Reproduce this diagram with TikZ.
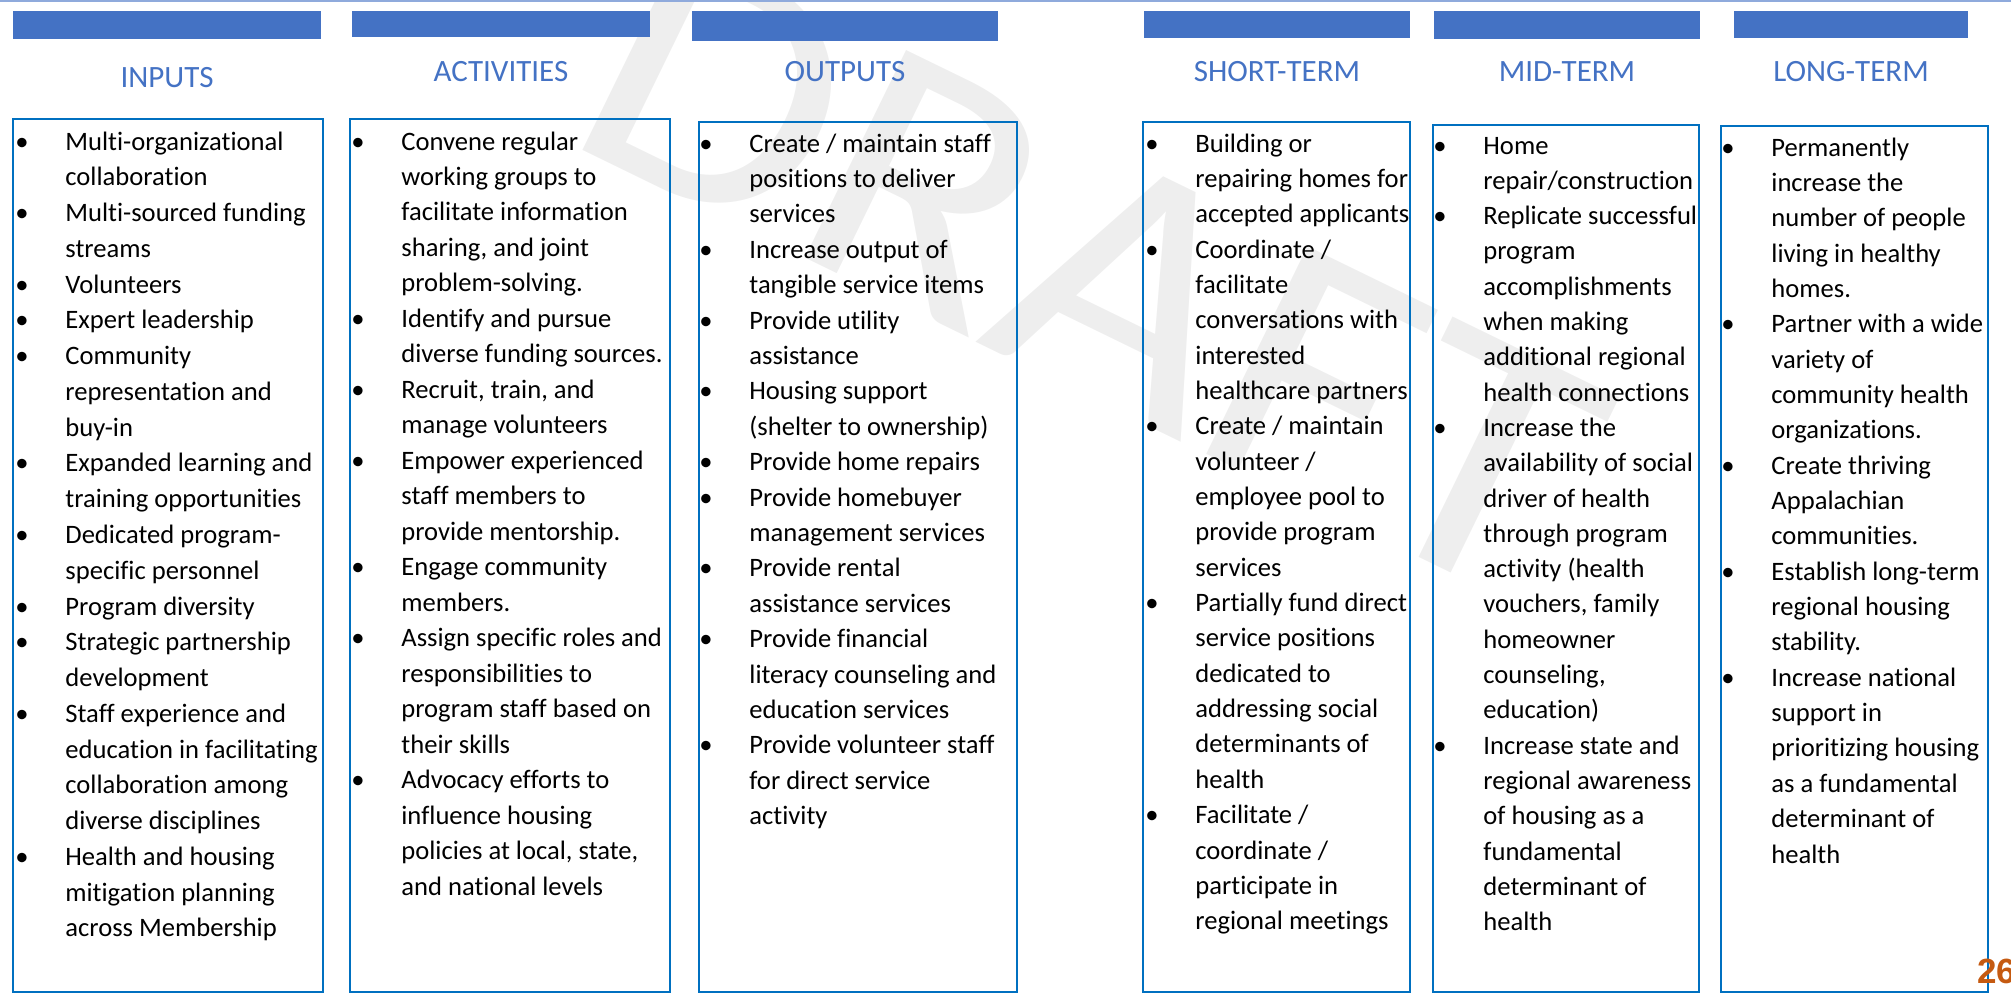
\documentclass[tikz,border=0pt]{standalone}
\usepackage{fontspec}
\setmainfont{Carlito}[Ligatures=NoCommon]
\newfontfamily\numfont{Liberation Sans}
\definecolor{barblue}{HTML}{4472C4}
\definecolor{boxblue}{HTML}{0070C0}
\definecolor{hdrblue}{HTML}{4472C4}
\definecolor{topline}{HTML}{8FAADC}
\definecolor{pagenum}{HTML}{C55A11}
\definecolor{wmark}{HTML}{EEEEEE}
\newcommand\bl{\leavevmode\llap{\makebox[0pt][c]{•}\hspace{21.75pt}}}
\newcommand\colbody[2]{\parbox[t]{230pt}{\fontsize{13.3pt}{#1}\selectfont #2}}
\begin{document}
\begin{tikzpicture}[x=0.5pt,y=-0.5pt,
  bar/.style={fill=barblue},
  colbox/.style={draw=boxblue,line width=1.25pt},
  hdr/.style={anchor=base,inner sep=0pt,text=hdrblue,font=\fontsize{15.5pt}{18pt}\selectfont},
  body/.style={anchor=base west,inner sep=0pt,text=black}]
\useasboundingbox (0,0) rectangle (2011,992);
% watermark
\node[anchor=base west,inner sep=0pt,rotate=-26,text=wmark,font=\fontsize{180pt}{180pt}\selectfont] (wm) at (558,138) {\scalebox{1.11}[1]{DRAFT}};
% top line
\draw[topline,line width=1pt] (0,1) -- (2011,1);
% header bars
\fill[bar] (13,11) rectangle (321,39);
\fill[bar] (352,11) rectangle (650,37);
\fill[bar] (692,11) rectangle (998,41);
\fill[bar] (1144,11) rectangle (1410,38);
\fill[bar] (1434,11) rectangle (1700,39);
\fill[bar] (1734,11) rectangle (1968,38);
% headers
\node[hdr] (h1) at (167,87) {INPUTS};
\node[hdr] (h2) at (501,81) {ACTIVITIES};
\node[hdr] (h3) at (845,81) {OUTPUTS};
\node[hdr] (h4) at (1277,81) {SHORT-TERM};
\node[hdr] (h5) at (1567,81) {MID-TERM};
\node[hdr] (h6) at (1851,81) {LONG-TERM};
% boxes
\draw[colbox] (13,992.5) -- (13,119) -- (323,119) -- (323,992.5) -- cycle;
\draw[colbox] (350,992.5) -- (350,119) -- (670,119) -- (670,992.5) -- cycle;
\draw[colbox] (699,992.5) -- (699,122) -- (1017,122) -- (1017,992.5) -- cycle;
\draw[colbox] (1143,992.5) -- (1143,122) -- (1410,122) -- (1410,992.5) -- cycle;
\draw[colbox] (1433,992.5) -- (1433,125) -- (1699,125) -- (1699,992.5) -- cycle;
\draw[colbox] (1721,992.5) -- (1721,126) -- (1988,126) -- (1988,992.5) -- cycle;
% column texts
\node[body] (c1) at (65,150) {\colbody{17.885pt}{%
\bl Multi-organizational\\
collaboration\\
\bl Multi-sourced funding\\
streams\\
\bl Volunteers\\
\bl Expert leadership\\
\bl Community\\
representation and\\
buy-in\\
\bl Expanded learning and\\
training opportunities\\
\bl Dedicated program-\\
specific personnel\\
\bl Program diversity\\
\bl Strategic partnership\\
development\\
\bl Staff experience and\\
education in facilitating\\
collaboration among\\
diverse disciplines\\
\bl Health and housing\\
mitigation planning\\
across Membership}};
\node[body] (c2) at (401,150) {\colbody{17.74pt}{%
\bl Convene regular\\
working groups to\\
facilitate information\\
sharing, and joint\\
problem-solving.\\
\bl Identify and pursue\\
diverse funding sources.\\
\bl Recruit, train, and\\
manage volunteers\\
\bl Empower experienced\\
staff members to\\
provide mentorship.\\
\bl Engage community\\
members.\\
\bl Assign specific roles and\\
responsibilities to\\
program staff based on\\
their skills\\
\bl Advocacy efforts to\\
influence housing\\
policies at local, state,\\
and national levels}};
\node[body] (c3) at (749,152) {\colbody{17.7pt}{%
\bl Create / maintain staff\\
positions to deliver\\
services\\
\bl Increase output of\\
tangible service items\\
\bl Provide utility\\
assistance\\
\bl Housing support\\
(shelter to ownership)\\
\bl Provide home repairs\\
\bl Provide homebuyer\\
management services\\
\bl Provide rental\\
assistance services\\
\bl Provide financial\\
literacy counseling and\\
education services\\
\bl Provide volunteer staff\\
for direct service\\
activity}};
\node[body] (c4) at (1195,152) {\colbody{17.675pt}{%
\bl Building or\\
repairing homes for\\
accepted applicants\\
\bl Coordinate /\\
facilitate\\
conversations with\\
interested\\
healthcare partners\\
\bl Create / maintain\\
volunteer /\\
employee pool to\\
provide program\\
services\\
\bl Partially fund direct\\
service positions\\
dedicated to\\
addressing social\\
determinants of\\
health\\
\bl Facilitate /\\
coordinate /\\
participate in\\
regional meetings}};
\node[body] (c5) at (1483,154) {\colbody{17.65pt}{%
\bl Home\\
repair/construction\\
\bl Replicate successful\\
program\\
accomplishments\\
when making\\
additional regional\\
health connections\\
\bl Increase the\\
availability of social\\
driver of health\\
through program\\
activity (health\\
vouchers, family\\
homeowner\\
counseling,\\
education)\\
\bl Increase state and\\
regional awareness\\
of housing as a\\
fundamental\\
determinant of\\
health}};
\node[body] (c6) at (1771,156) {\colbody{17.675pt}{%
\bl Permanently\\
increase the\\
number of people\\
living in healthy\\
homes.\\
\bl Partner with a wide\\
variety of\\
community health\\
organizations.\\
\bl Create thriving\\
Appalachian\\
communities.\\
\bl Establish long-term\\
regional housing\\
stability.\\
\bl Increase national\\
support in\\
prioritizing housing\\
as a fundamental\\
determinant of\\
health}};
% page number
\node[anchor=base west,inner sep=0pt,text=pagenum,font=\numfont\bfseries\fontsize{17.5pt}{20pt}\selectfont] (pg) at (1977,983) {26};
\end{tikzpicture}
\end{document}
